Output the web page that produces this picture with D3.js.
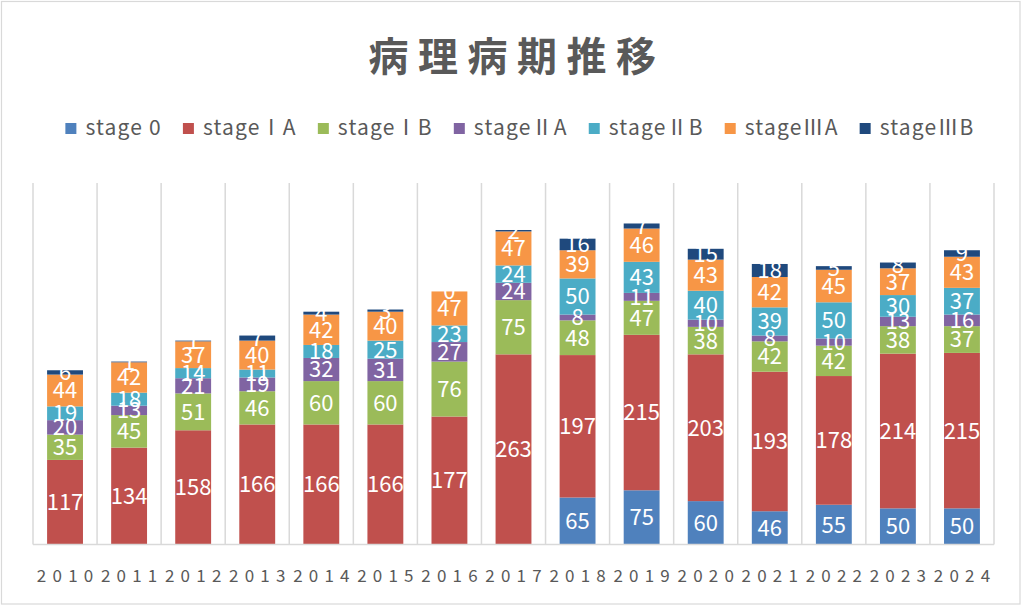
<!DOCTYPE html>
<html><head><meta charset="utf-8">
<script src="https://cdn.jsdelivr.net/npm/d3@7"></script>
<style>
html,body{margin:0;padding:0;background:#fff;}
svg{display:block;font-family:"Noto Sans CJK JP","Noto Sans",sans-serif;}
</style></head>
<body><svg id="c" width="1027" height="607"></svg>
<script>
const title = "病理病期推移";
const years = ["2010","2011","2012","2013","2014","2015","2016","2017","2018","2019","2020","2021","2022","2023","2024"];
const seriesNames = ["stage 0","stageⅠA","stageⅠB","stageⅡA","stageⅡB","stageⅢA","stageⅢB"];
const seriesColors = ["#4F81BD","#C0504D","#9BBB59","#8064A2","#4BACC6","#F79646","#1F497D"];
const stage0   = [null,null,null,null,null,null,null,null,65,75,60,46,55,50,50];
const stageIA  = [117,134,158,166,166,166,177,263,197,215,203,193,178,214,215];
const stageIB  = [35,45,51,46,60,60,76,75,48,47,38,42,42,38,37];
const stageIIA = [20,13,21,19,32,31,27,24,8,11,10,8,10,13,16];
const stageIIB = [19,18,14,11,18,25,23,24,50,43,40,39,50,30,37];
const stageIIIA= [44,42,37,40,42,40,47,47,39,46,43,42,45,37,43];
const stageIIIB= [6,1,1,7,4,3,0,2,16,7,15,18,5,8,9];
const seriesValues = [stage0,stageIA,stageIB,stageIIA,stageIIB,stageIIIA,stageIIIB];
const yMax = 500;

const svg = d3.select("#c");
// chart border
svg.append("rect").attr("x",1.5).attr("y",1.5).attr("width",1018.5).attr("height",602.5)
  .attr("fill","#fff").attr("stroke","#D9D9D9").attr("stroke-width",1.2);

const plot = {left:33, right:994, top:183, bottom:544.5};
const x = d3.scaleBand().domain(years).range([plot.left, plot.right]).padding(0);
const y = d3.scaleLinear().domain([0,yMax]).range([plot.bottom, plot.top]);

// title
svg.append("text").attr("x",512+5).attr("y",71).attr("text-anchor","middle")
  .attr("font-size",40).attr("font-weight","bold").attr("fill","#595959")
  .attr("letter-spacing",9.5).text(title);

// vertical category gridlines
const bounds = years.map(d=>x(d)).concat([plot.right]);
svg.append("g").selectAll("line").data(bounds).join("line")
  .attr("x1",d=>d).attr("x2",d=>d).attr("y1",plot.top).attr("y2",plot.bottom)
  .attr("stroke","#D9D9D9").attr("stroke-width",1.5);

// stack
const rows = years.map((yr,i)=>{const o={year:yr}; seriesNames.forEach((s,k)=>o[s]=seriesValues[k][i]==null?0:seriesValues[k][i]); return o;});
const stack = d3.stack().keys(seriesNames)(rows);
const bw = x.bandwidth()*0.56;

const g = svg.append("g");
stack.forEach((layer,k)=>{
  g.append("g").attr("fill",seriesColors[k]).selectAll("rect").data(layer).join("rect")
    .attr("x",d=>x(d.data.year)+(x.bandwidth()-bw)/2)
    .attr("width",bw)
    .attr("y",d=>y(d[1]))
    .attr("height",d=>Math.max(0,y(d[0])-y(d[1])));
});
// labels
const lg = svg.append("g");
stack.forEach((layer,k)=>{
  layer.forEach((d,i)=>{
    const v = seriesValues[k][i];
    if(v==null) return;
    lg.append("text").attr("x",x(d.data.year)+x.bandwidth()/2)
      .attr("y",(y(d[0])+y(d[1]))/2).attr("dy","0.36em")
      .attr("text-anchor","middle").attr("font-size",22).attr("fill","#fff").text(v);
  });
});

// x axis line
svg.append("line").attr("x1",plot.left).attr("x2",plot.right).attr("y1",plot.bottom).attr("y2",plot.bottom)
  .attr("stroke","#D9D9D9").attr("stroke-width",1.5);
// x axis labels
const ls = 6.2;
svg.append("g").selectAll("text").data(years).join("text")
  .attr("x",d=>x(d)+x.bandwidth()/2+ls/2).attr("y",582)
  .attr("text-anchor","middle").attr("font-size",17).attr("fill","#595959")
  .attr("letter-spacing",ls).text(d=>d);

// legend
const leg = svg.append("g");
const items = seriesNames.map((s,k)=>{
  const it = leg.append("g");
  it.append("rect").attr("width",11).attr("height",11).attr("y",-12).attr("fill",seriesColors[k]);
  const t = it.append("text").attr("x",20).attr("y",0).attr("font-size",21).attr("fill","#595959")
    .attr("letter-spacing",1.2).text(s);
  return {g:it, w:20+t.node().getComputedTextLength()};
});
const gap = 21;
const total = d3.sum(items,d=>d.w)+gap*(items.length-1);
let cx = 520 - total/2;
items.forEach(it=>{ it.g.attr("transform",`translate(${cx},135)`); cx += it.w+gap; });
</script></body></html>
